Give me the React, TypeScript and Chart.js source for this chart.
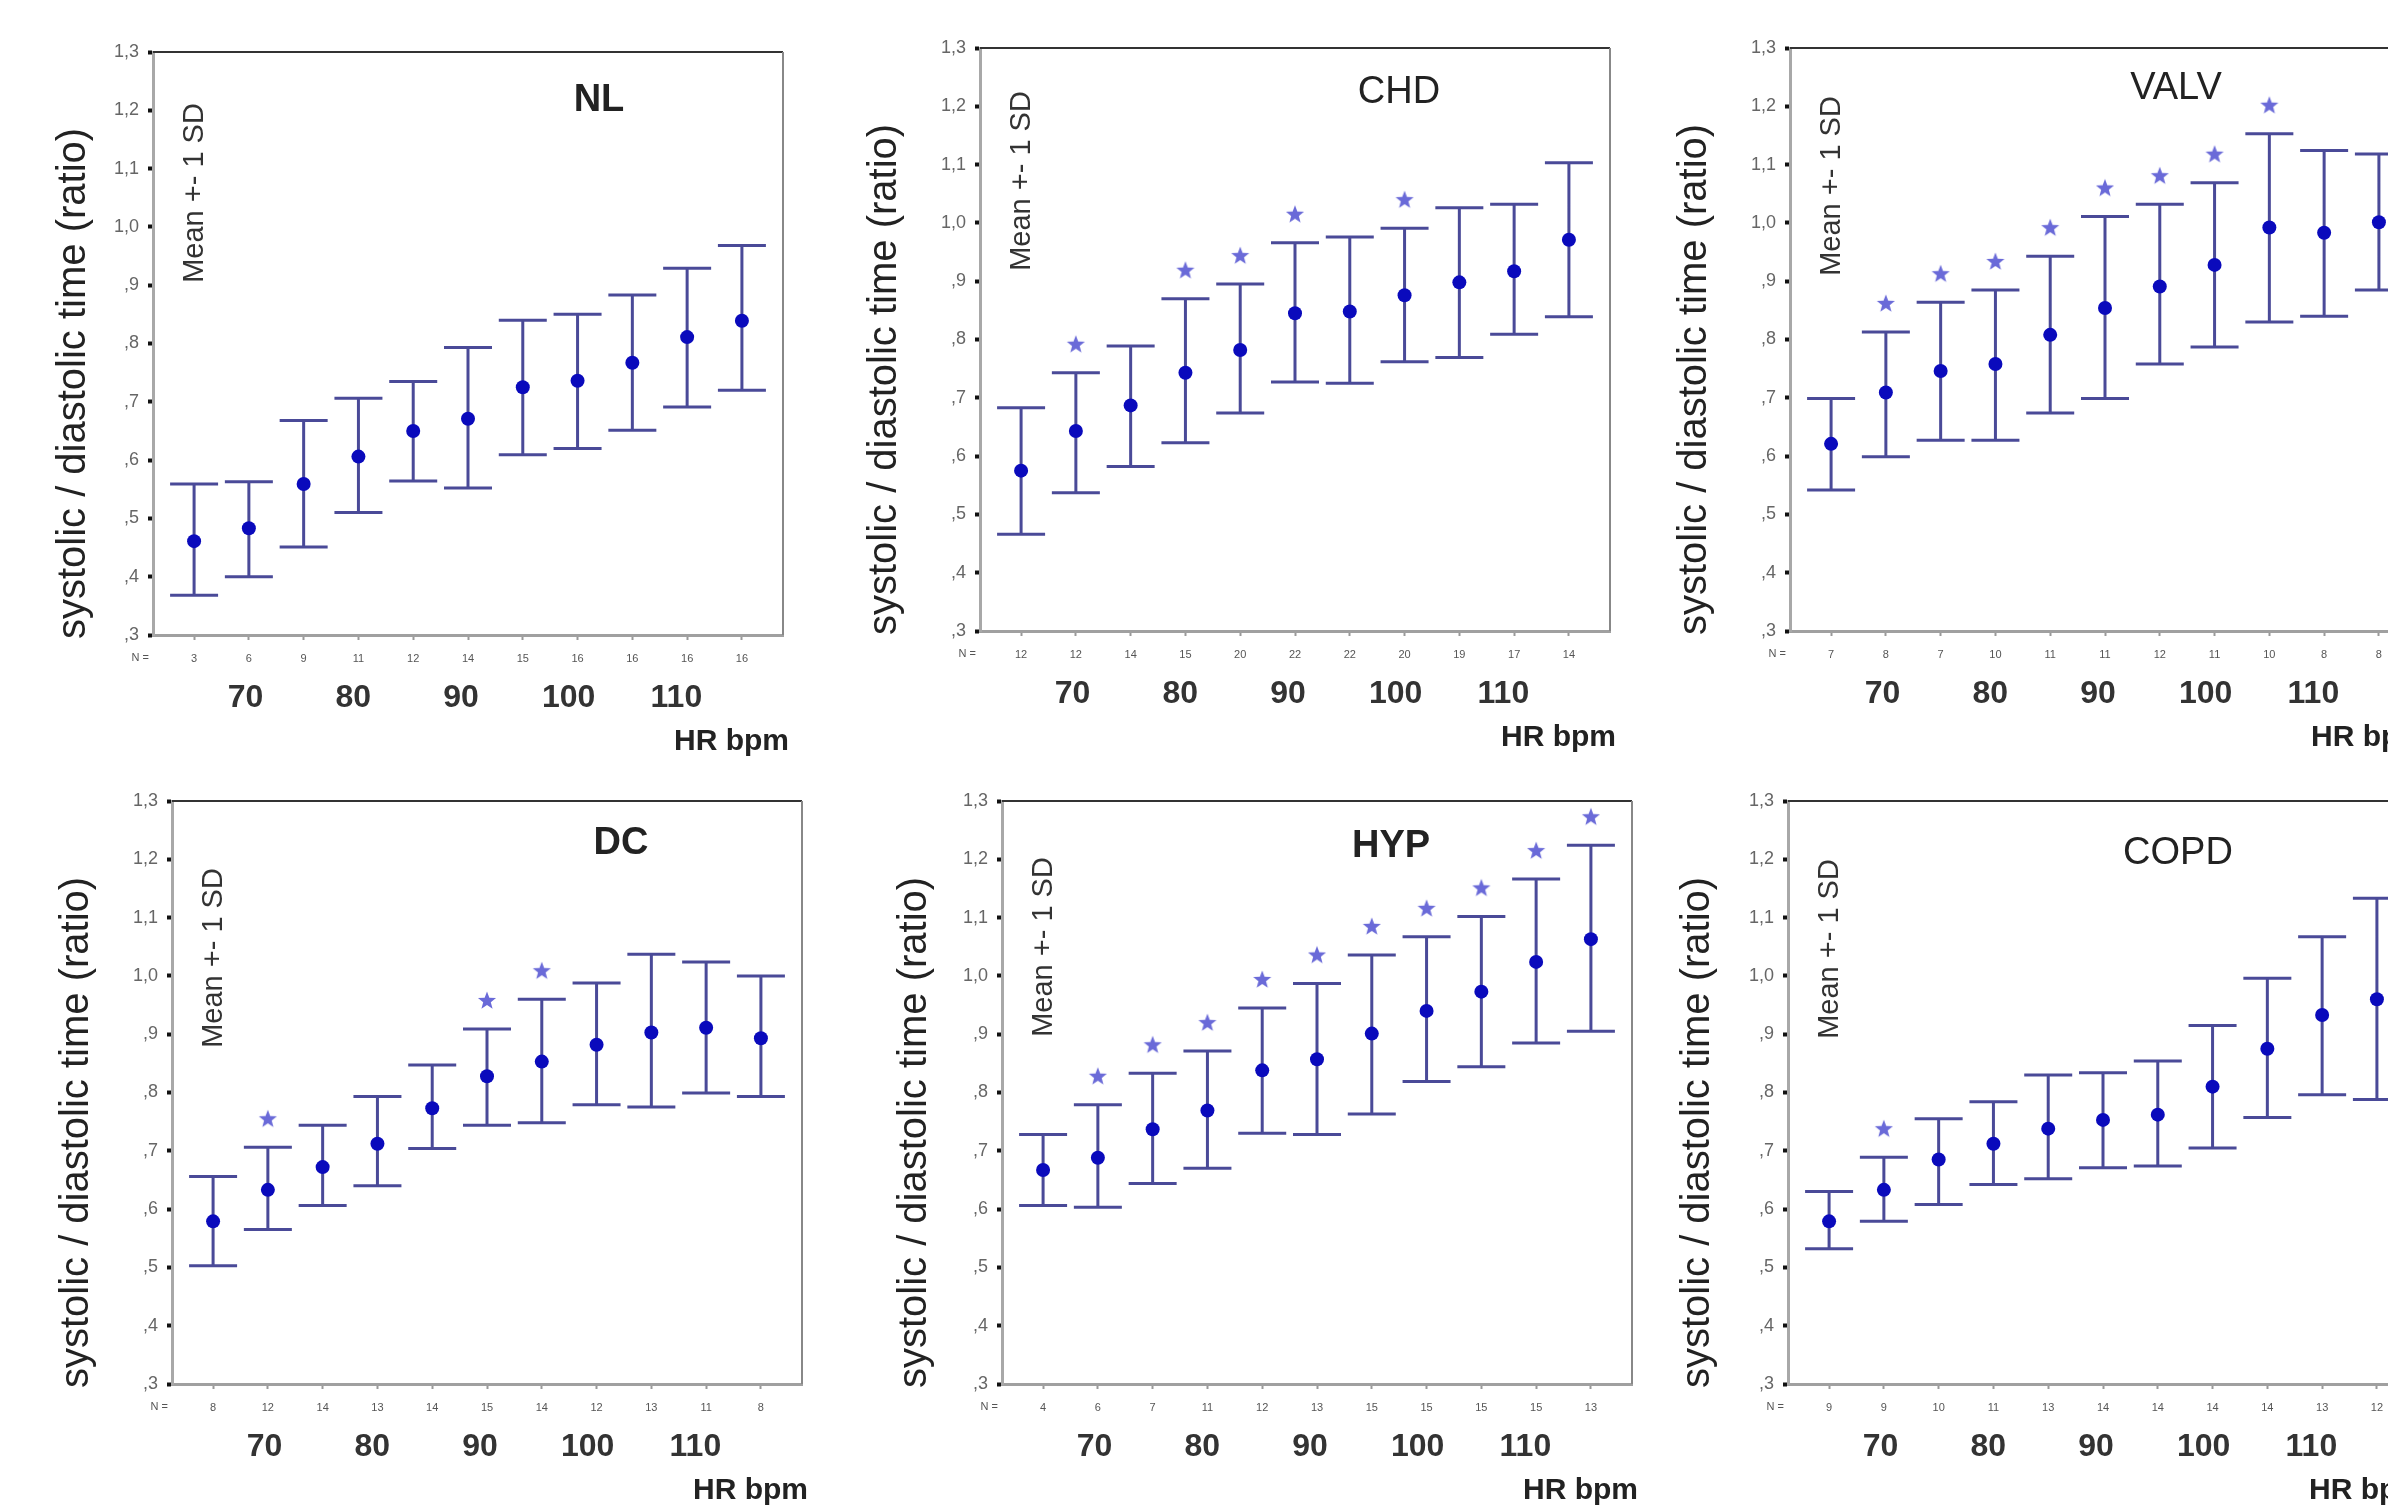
import React, { useEffect, useRef } from 'react';
import { Chart, registerables } from 'chart.js';

Chart.register(...registerables);

const FONT = '"Liberation Sans", Arial, sans-serif';
Chart.defaults.font.family = FONT;

// ---------- shared axis data ----------
const positions = [1, 2, 3, 4, 5, 6, 7, 8, 9, 10, 11];
const yTickValues = [0.3, 0.4, 0.5, 0.6, 0.7, 0.8, 0.9, 1.0, 1.1, 1.2, 1.3];
const yTickLabels = [',3', ',4', ',5', ',6', ',7', ',8', ',9', '1,0', '1,1', '1,2', '1,3'];
const hrTickValues = [70, 80, 90, 100, 110];
const hrTickLabels = ['70', '80', '90', '100', '110'];
const Y_TITLE = 'systolic / diastolic time (ratio)';
const X_TITLE = 'HR bpm';
const SD_LABEL = 'Mean +- 1 SD';

// ---------- NL ----------
const nlMean = [0.461, 0.483, 0.559, 0.606, 0.650, 0.671, 0.725, 0.736, 0.767, 0.811, 0.839];
const nlHigh = [0.559, 0.563, 0.668, 0.706, 0.735, 0.793, 0.840, 0.850, 0.883, 0.929, 0.968];
const nlLow = [0.368, 0.400, 0.451, 0.510, 0.564, 0.552, 0.609, 0.620, 0.651, 0.691, 0.720];
const nlN = [3, 6, 9, 11, 12, 14, 15, 16, 16, 16, 16];
const nlStar = [0, 0, 0, 0, 0, 0, 0, 0, 0, 0, 0];

// ---------- CHD ----------
const chdMean = [0.575, 0.643, 0.687, 0.743, 0.782, 0.845, 0.848, 0.876, 0.898, 0.917, 0.971];
const chdHigh = [0.683, 0.743, 0.789, 0.870, 0.895, 0.966, 0.976, 0.991, 1.026, 1.032, 1.103];
const chdLow = [0.466, 0.537, 0.582, 0.623, 0.674, 0.727, 0.725, 0.762, 0.769, 0.809, 0.839];
const chdN = [12, 12, 14, 15, 20, 22, 22, 20, 19, 17, 14];
const chdStar = [0, 1, 0, 1, 1, 1, 0, 1, 0, 0, 0];

// ---------- VALV ----------
const valvMean = [0.621, 0.709, 0.746, 0.758, 0.808, 0.854, 0.891, 0.928, 0.992, 0.983, 1.001];
const valvHigh = [0.699, 0.813, 0.864, 0.885, 0.943, 1.011, 1.032, 1.069, 1.153, 1.124, 1.118];
const valvLow = [0.542, 0.599, 0.627, 0.627, 0.674, 0.699, 0.758, 0.787, 0.830, 0.840, 0.885];
const valvN = [7, 8, 7, 10, 11, 11, 12, 11, 10, 8, 8];
const valvStar = [0, 1, 1, 1, 1, 1, 1, 1, 1, 0, 0];

// ---------- DC ----------
const dcMean = [0.579, 0.633, 0.672, 0.712, 0.773, 0.828, 0.853, 0.882, 0.903, 0.911, 0.893];
const dcHigh = [0.656, 0.706, 0.744, 0.793, 0.847, 0.909, 0.960, 0.988, 1.037, 1.024, 1.000];
const dcLow = [0.503, 0.565, 0.606, 0.640, 0.704, 0.744, 0.748, 0.779, 0.775, 0.799, 0.793];
const dcN = [8, 12, 14, 13, 14, 15, 14, 12, 13, 11, 8];
const dcStar = [0, 1, 0, 0, 0, 1, 1, 0, 0, 0, 0];

// ---------- HYP ----------
const hypMean = [0.667, 0.688, 0.737, 0.769, 0.838, 0.857, 0.901, 0.940, 0.973, 1.024, 1.063];
const hypHigh = [0.728, 0.779, 0.833, 0.871, 0.945, 0.987, 1.036, 1.067, 1.102, 1.166, 1.224];
const hypLow = [0.606, 0.603, 0.644, 0.670, 0.730, 0.728, 0.763, 0.819, 0.844, 0.885, 0.905];
const hypN = [4, 6, 7, 11, 12, 13, 15, 15, 15, 15, 13];
const hypStar = [0, 1, 1, 1, 1, 1, 1, 1, 1, 1, 1];

// ---------- COPD ----------
const copdMean = [0.579, 0.633, 0.685, 0.712, 0.738, 0.753, 0.762, 0.810, 0.875, 0.933, 0.960];
const copdHigh = [0.630, 0.689, 0.755, 0.784, 0.830, 0.834, 0.854, 0.915, 0.996, 1.067, 1.133];
const copdLow = [0.532, 0.579, 0.608, 0.642, 0.652, 0.671, 0.674, 0.705, 0.757, 0.796, 0.788];
const copdN = [9, 9, 10, 11, 13, 14, 14, 14, 14, 13, 12];
const copdStar = [0, 1, 0, 0, 0, 0, 0, 0, 0, 0, 0];

// ---------- styles ----------
const BAR = '#4a4a98';
const MEAN = '#0a0abc';
const STAR = '#6a6ad8';
const Y_AXIS_W = 130;
const PAD_TOP = 20;
const PAD_RIGHT = 40;
const N_AXIS_H = 40;
const HR_AXIS_H = 95;
const BOX_W = 630;
const BOX_H = 590;

type Panel = {
  title: string; mean: number[]; high: number[]; low: number[]; n: number[]; star: number[];
  left: number; top: number; titleDX: number; titleDY: number; titleWeight: string;
  ylabelGap: number; sdDY: number;
};

const panels: Panel[] = [
  { title: 'NL', mean: nlMean, high: nlHigh, low: nlLow, n: nlN, star: nlStar,
    left: 153, top: 45, titleDX: 446, titleDY: 49, titleWeight: 'bold', ylabelGap: 79, sdDY: 141 },
  { title: 'CHD', mean: chdMean, high: chdHigh, low: chdLow, n: chdN, star: chdStar,
    left: 980, top: 41, titleDX: 419, titleDY: 45, titleWeight: 'normal', ylabelGap: 95, sdDY: 133 },
  { title: 'VALV', mean: valvMean, high: valvHigh, low: valvLow, n: valvN, star: valvStar,
    left: 1790, top: 41, titleDX: 386, titleDY: 41, titleWeight: 'normal', ylabelGap: 95, sdDY: 138 },
  { title: 'DC', mean: dcMean, high: dcHigh, low: dcLow, n: dcN, star: dcStar,
    left: 172, top: 794, titleDX: 449, titleDY: 43, titleWeight: 'bold', ylabelGap: 95, sdDY: 157 },
  { title: 'HYP', mean: hypMean, high: hypHigh, low: hypLow, n: hypN, star: hypStar,
    left: 1002, top: 794, titleDX: 389, titleDY: 46, titleWeight: 'bold', ylabelGap: 87, sdDY: 146 },
  { title: 'COPD', mean: copdMean, high: copdHigh, low: copdLow, n: copdN, star: copdStar,
    left: 1788, top: 794, titleDX: 390, titleDY: 53, titleWeight: 'normal', ylabelGap: 90, sdDY: 148 },
];

function makeStar(): HTMLCanvasElement {
  const c = document.createElement('canvas');
  c.width = 24;
  c.height = 78;
  const g = c.getContext('2d')!;
  g.fillStyle = STAR;
  g.beginPath();
  const cx = 12, cy = 11, R = 9.5, r = 4;
  for (let k = 0; k < 10; k++) {
    const ang = -Math.PI / 2 + (k * Math.PI) / 5;
    const rr = k % 2 === 0 ? R : r;
    const px = cx + rr * Math.cos(ang);
    const py = cy + rr * Math.sin(ang);
    if (k === 0) g.moveTo(px, py); else g.lineTo(px, py);
  }
  g.closePath();
  g.fill();
  return c;
}

const panelText = {
  id: 'panelText',
  afterDraw(chart: any, _args: any, opts: any) {
    const { ctx, chartArea: a } = chart;
    ctx.save();
    // top / right frame
    ctx.lineWidth = 2;
    ctx.strokeStyle = '#333';
    ctx.beginPath(); ctx.moveTo(a.left, a.top); ctx.lineTo(a.right, a.top); ctx.stroke();
    ctx.strokeStyle = '#888';
    ctx.beginPath(); ctx.moveTo(a.right, a.top); ctx.lineTo(a.right, a.bottom); ctx.stroke();

    ctx.textAlign = 'center';
    ctx.textBaseline = 'middle';
    // panel title
    ctx.fillStyle = '#222';
    ctx.font = `${opts.titleWeight} 38px ${FONT}`;
    ctx.fillText(opts.title, a.left + opts.titleDX, a.top + opts.titleDY);

    // y title
    ctx.save();
    ctx.translate(a.left - opts.ylabelGap, (a.top + a.bottom) / 2 + 40);
    ctx.rotate(-Math.PI / 2);
    ctx.font = `40px ${FONT}`;
    ctx.fillStyle = '#222';
    ctx.fillText(Y_TITLE, 0, 0);
    ctx.restore();

    // Mean +- 1 SD
    ctx.save();
    ctx.translate(a.left + 42, a.top + opts.sdDY);
    ctx.rotate(-Math.PI / 2);
    ctx.font = `29px ${FONT}`;
    ctx.fillStyle = '#333';
    ctx.fillText(SD_LABEL, 0, 0);
    ctx.restore();

    // N =
    ctx.font = `11px ${FONT}`;
    ctx.textAlign = 'right';
    ctx.fillStyle = '#555';
    ctx.fillText('N =', a.left - 4, a.bottom + 23);

    // HR bpm
    ctx.font = `bold 30px ${FONT}`;
    ctx.textAlign = 'right';
    ctx.fillStyle = '#222';
    ctx.fillText(X_TITLE, a.right + 6, a.bottom + 107);
    ctx.restore();
  },
};

function PanelChart({ p }: { p: Panel }) {
  const ref = useRef<HTMLCanvasElement | null>(null);
  useEffect(() => {
    if (!ref.current) return;
    const star = makeStar();
    const meanData = positions.map((x, i) => ({ x, y: p.mean[i] }));
    const capData = positions.map((x, i) => ({ x, y: p.high[i] }))
      .concat(positions.map((x, i) => ({ x, y: p.low[i] })));
    const stemData: any[] = [];
    positions.forEach((x, i) => {
      stemData.push({ x, y: p.low[i] }, { x, y: p.high[i] }, { x, y: null });
    });
    const starData = positions
      .map((x, i) => (p.star[i] ? { x, y: p.high[i] } : null))
      .filter((d) => d !== null);

    const chart = new Chart(ref.current, {
      type: 'scatter',
      data: {
        datasets: [
          { type: 'scatter', label: 'mean', data: meanData, xAxisID: 'x', yAxisID: 'y',
            pointStyle: 'circle', pointRadius: 7, backgroundColor: MEAN, borderWidth: 0, order: 0 } as any,
          { type: 'scatter', label: 'sig', data: starData, xAxisID: 'x', yAxisID: 'y',
            pointStyle: star, pointRadius: 10, clip: false, order: 1 } as any,
          { type: 'scatter', label: 'caps', data: capData, xAxisID: 'x', yAxisID: 'y',
            pointStyle: 'line', pointRadius: 24, borderColor: BAR, borderWidth: 3, order: 2 } as any,
          { type: 'line', label: 'sd', data: stemData, xAxisID: 'x', yAxisID: 'y',
            borderColor: BAR, borderWidth: 3, pointRadius: 0, spanGaps: false, tension: 0, order: 3 } as any,
        ],
      },
      options: {
        responsive: false,
        animation: false,
        devicePixelRatio: 1,
        events: [],
        layout: { padding: { top: PAD_TOP, right: PAD_RIGHT, left: 0, bottom: 0 } },
        plugins: {
          legend: { display: false },
          tooltip: { enabled: false },
          panelText: {
            title: p.title, titleDX: p.titleDX, titleDY: p.titleDY, titleWeight: p.titleWeight,
            ylabelGap: p.ylabelGap, sdDY: p.sdDY,
          },
        } as any,
        scales: {
          x: {
            type: 'linear', position: 'bottom', min: 0.25, max: 11.75, weight: 0,
            afterBuildTicks: (s: any) => { s.ticks = positions.map((v) => ({ value: v })); },
            afterFit: (s: any) => { s.height = N_AXIS_H; },
            ticks: {
              callback: (_v: any, i: number) => String(p.n[i]),
              font: { size: 11 }, color: '#555', padding: 12, maxRotation: 0, autoSkip: false,
            },
            grid: { drawOnChartArea: false, tickLength: 5, tickColor: '#999', tickWidth: 2 },
            border: { color: '#a0a0a0', width: 3 },
          },
          x2: {
            type: 'linear', position: 'bottom', min: 61.4, max: 119.9, weight: 1,
            afterBuildTicks: (s: any) => { s.ticks = hrTickValues.map((v) => ({ value: v })); },
            afterFit: (s: any) => { s.height = HR_AXIS_H; },
            ticks: {
              callback: (_v: any, i: number) => hrTickLabels[i],
              font: { size: 32, weight: 'bold' }, color: '#333', padding: 4, maxRotation: 0, autoSkip: false,
            },
            grid: { display: false, drawTicks: false },
            border: { display: false },
          },
          y: {
            type: 'linear', min: 0.3, max: 1.3,
            afterBuildTicks: (s: any) => { s.ticks = yTickValues.map((v) => ({ value: v })); },
            afterFit: (s: any) => { s.width = Y_AXIS_W; },
            ticks: {
              callback: (_v: any, i: number) => yTickLabels[i],
              font: { size: 18 }, color: '#666', padding: 9,
            },
            grid: { drawOnChartArea: false, tickLength: 5, tickWidth: 4, tickColor: '#111' },
            border: { color: '#a8a8a8', width: 3 },
          },
        } as any,
      },
      plugins: [panelText as any],
    });
    return () => chart.destroy();
  }, [p]);

  const w = Y_AXIS_W + BOX_W + PAD_RIGHT;
  const h = PAD_TOP + BOX_H + N_AXIS_H + HR_AXIS_H;
  return (
    <canvas
      ref={ref}
      width={w}
      height={h}
      style={{ position: 'absolute', left: p.left - Y_AXIS_W, top: p.top - PAD_TOP, width: w, height: h }}
    />
  );
}

export default function App() {
  return (
    <div
      style={{
        position: 'fixed', left: 0, top: 0, width: '100vw', height: '100vh',
        overflow: 'hidden', background: '#ffffff',
      }}
    >
      {panels.map((p) => (
        <PanelChart key={p.title} p={p} />
      ))}
    </div>
  );
}
